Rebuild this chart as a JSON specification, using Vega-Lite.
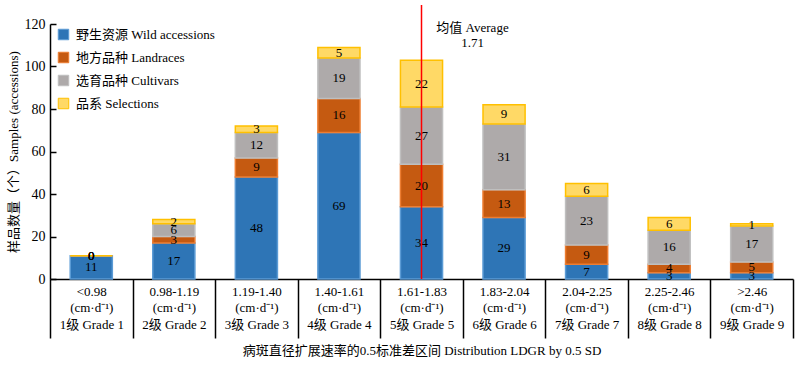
{
  "$schema": "https://vega.github.io/schema/vega-lite/v6.json",
  "width": 743,
  "height": 255,
  "autosize": {"type": "none"},
  "padding": {"left": 50, "top": 24, "right": 7, "bottom": 89},
  "config": {
    "font": "Liberation Serif, Noto Sans CJK SC",
    "view": {"stroke": null},
    "axis": {"labelFont": "Liberation Serif, Noto Sans CJK SC", "titleFont": "Liberation Serif, Noto Sans CJK SC", "labelColor": "#000", "titleColor": "#000", "domainColor": "#000", "tickColor": "#000", "grid": false, "titleFontWeight": "normal"},
    "legend": {"labelFont": "Liberation Serif, Noto Sans CJK SC"}
  },
  "datasets": {
    "counts": [
      {"grade": "<0.98\n(cm·d⁻¹)\n1级 Grade 1", "type": "野生资源 Wild accessions", "s": 0, "n": 11},
      {"grade": "<0.98\n(cm·d⁻¹)\n1级 Grade 1", "type": "地方品种 Landraces", "s": 1, "n": 0},
      {"grade": "<0.98\n(cm·d⁻¹)\n1级 Grade 1", "type": "选育品种 Cultivars", "s": 2, "n": 0},
      {"grade": "<0.98\n(cm·d⁻¹)\n1级 Grade 1", "type": "品系 Selections", "s": 3, "n": 0},
      {"grade": "0.98-1.19\n(cm·d⁻¹)\n2级 Grade 2", "type": "野生资源 Wild accessions", "s": 0, "n": 17},
      {"grade": "0.98-1.19\n(cm·d⁻¹)\n2级 Grade 2", "type": "地方品种 Landraces", "s": 1, "n": 3},
      {"grade": "0.98-1.19\n(cm·d⁻¹)\n2级 Grade 2", "type": "选育品种 Cultivars", "s": 2, "n": 6},
      {"grade": "0.98-1.19\n(cm·d⁻¹)\n2级 Grade 2", "type": "品系 Selections", "s": 3, "n": 2},
      {"grade": "1.19-1.40\n(cm·d⁻¹)\n3级 Grade 3", "type": "野生资源 Wild accessions", "s": 0, "n": 48},
      {"grade": "1.19-1.40\n(cm·d⁻¹)\n3级 Grade 3", "type": "地方品种 Landraces", "s": 1, "n": 9},
      {"grade": "1.19-1.40\n(cm·d⁻¹)\n3级 Grade 3", "type": "选育品种 Cultivars", "s": 2, "n": 12},
      {"grade": "1.19-1.40\n(cm·d⁻¹)\n3级 Grade 3", "type": "品系 Selections", "s": 3, "n": 3},
      {"grade": "1.40-1.61\n(cm·d⁻¹)\n4级 Grade 4", "type": "野生资源 Wild accessions", "s": 0, "n": 69},
      {"grade": "1.40-1.61\n(cm·d⁻¹)\n4级 Grade 4", "type": "地方品种 Landraces", "s": 1, "n": 16},
      {"grade": "1.40-1.61\n(cm·d⁻¹)\n4级 Grade 4", "type": "选育品种 Cultivars", "s": 2, "n": 19},
      {"grade": "1.40-1.61\n(cm·d⁻¹)\n4级 Grade 4", "type": "品系 Selections", "s": 3, "n": 5},
      {"grade": "1.61-1.83\n(cm·d⁻¹)\n5级 Grade 5", "type": "野生资源 Wild accessions", "s": 0, "n": 34},
      {"grade": "1.61-1.83\n(cm·d⁻¹)\n5级 Grade 5", "type": "地方品种 Landraces", "s": 1, "n": 20},
      {"grade": "1.61-1.83\n(cm·d⁻¹)\n5级 Grade 5", "type": "选育品种 Cultivars", "s": 2, "n": 27},
      {"grade": "1.61-1.83\n(cm·d⁻¹)\n5级 Grade 5", "type": "品系 Selections", "s": 3, "n": 22},
      {"grade": "1.83-2.04\n(cm·d⁻¹)\n6级 Grade 6", "type": "野生资源 Wild accessions", "s": 0, "n": 29},
      {"grade": "1.83-2.04\n(cm·d⁻¹)\n6级 Grade 6", "type": "地方品种 Landraces", "s": 1, "n": 13},
      {"grade": "1.83-2.04\n(cm·d⁻¹)\n6级 Grade 6", "type": "选育品种 Cultivars", "s": 2, "n": 31},
      {"grade": "1.83-2.04\n(cm·d⁻¹)\n6级 Grade 6", "type": "品系 Selections", "s": 3, "n": 9},
      {"grade": "2.04-2.25\n(cm·d⁻¹)\n7级 Grade 7", "type": "野生资源 Wild accessions", "s": 0, "n": 7},
      {"grade": "2.04-2.25\n(cm·d⁻¹)\n7级 Grade 7", "type": "地方品种 Landraces", "s": 1, "n": 9},
      {"grade": "2.04-2.25\n(cm·d⁻¹)\n7级 Grade 7", "type": "选育品种 Cultivars", "s": 2, "n": 23},
      {"grade": "2.04-2.25\n(cm·d⁻¹)\n7级 Grade 7", "type": "品系 Selections", "s": 3, "n": 6},
      {"grade": "2.25-2.46\n(cm·d⁻¹)\n8级 Grade 8", "type": "野生资源 Wild accessions", "s": 0, "n": 3},
      {"grade": "2.25-2.46\n(cm·d⁻¹)\n8级 Grade 8", "type": "地方品种 Landraces", "s": 1, "n": 4},
      {"grade": "2.25-2.46\n(cm·d⁻¹)\n8级 Grade 8", "type": "选育品种 Cultivars", "s": 2, "n": 16},
      {"grade": "2.25-2.46\n(cm·d⁻¹)\n8级 Grade 8", "type": "品系 Selections", "s": 3, "n": 6},
      {"grade": ">2.46\n(cm·d⁻¹)\n9级 Grade 9", "type": "野生资源 Wild accessions", "s": 0, "n": 3},
      {"grade": ">2.46\n(cm·d⁻¹)\n9级 Grade 9", "type": "地方品种 Landraces", "s": 1, "n": 5},
      {"grade": ">2.46\n(cm·d⁻¹)\n9级 Grade 9", "type": "选育品种 Cultivars", "s": 2, "n": 17},
      {"grade": ">2.46\n(cm·d⁻¹)\n9级 Grade 9", "type": "品系 Selections", "s": 3, "n": 1}
    ],
    "avg": [
      {"grade": "1.61-1.83\n(cm·d⁻¹)\n5级 Grade 5", "label": "均值 Average\n1.71"}
    ]
  },
  "encoding": {
    "x": {
      "field": "grade", "type": "nominal", "sort": null,
      "scale": {"paddingInner": 0, "paddingOuter": 0},
      "axis": {
        "title": "病斑直径扩展速率的0.5标准差区间 Distribution LDGR by 0.5 SD",
        "titleFontSize": 13, "titlePadding": 6,
        "labelAngle": 0, "labelFontSize": 13, "labelLineHeight": 16.5,
        "labelExpr": "split(datum.label, '\\n')",
        "labelBaseline": "top", "labelPadding": -53,
        "tickBand": "extent", "tickSize": 59, "tickWidth": 1.5, "domainWidth": 1.5
      }
    }
  },
  "layer": [
    {
      "data": {"name": "counts"},
      "mark": {"type": "bar", "width": {"band": 0.51}, "strokeWidth": 1.5},
      "encoding": {
        "y": {
          "field": "n", "type": "quantitative", "stack": "zero",
          "scale": {"domain": [0, 120], "nice": false},
          "axis": {
            "title": "样品数量（个）Samples (accessions)", "titleFontSize": 13, "titlePadding": 4,
            "values": [0, 20, 40, 60, 80, 100, 120], "labelFontSize": 14,
            "tickSize": -6, "labelPadding": 11, "tickWidth": 1.5, "domainWidth": 1.5
          }
        },
        "order": {"field": "s", "type": "quantitative", "sort": "ascending"},
        "color": {
          "field": "type", "type": "nominal",
          "scale": {
            "domain": ["野生资源 Wild accessions", "地方品种 Landraces", "选育品种 Cultivars", "品系 Selections"],
            "range": ["#2E75B6", "#C55A11", "#AEAAAA", "#FFD966"]
          },
          "legend": {
            "title": null, "orient": "none", "legendX": 7, "legendY": 4,
            "symbolType": "square", "symbolSize": 110, "symbolStrokeWidth": 1,
            "labelFontSize": 13, "rowPadding": 8, "labelOffset": 6
          }
        },
        "stroke": {
          "field": "type", "type": "nominal",
          "scale": {
            "domain": ["野生资源 Wild accessions", "地方品种 Landraces", "选育品种 Cultivars", "品系 Selections"],
            "range": ["#5B9BD5", "#ED7D31", "#BFBFBF", "#FFC000"]
          },
          "legend": null
        }
      }
    },
    {
      "data": {"name": "counts"},
      "transform": [
        {"stack": "n", "groupby": ["grade"], "sort": [{"field": "s", "order": "ascending"}], "as": ["y0", "y1"]},
        {"calculate": "(datum.y0 + datum.y1) / 2", "as": "mid"}
      ],
      "mark": {"type": "text", "fontSize": 13, "baseline": "middle", "color": "#000"},
      "encoding": {
        "y": {"field": "mid", "type": "quantitative"},
        "text": {"field": "n", "type": "quantitative"}
      }
    },
    {
      "data": {"name": "avg"},
      "mark": {"type": "rule", "color": "#FF0000", "strokeWidth": 1.5},
      "encoding": {
        "y": {"datum": 0},
        "y2": {"datum": 129}
      }
    },
    {
      "data": {"name": "avg"},
      "mark": {"type": "text", "fontSize": 13, "baseline": "middle", "align": "center", "dx": 51, "lineHeight": 15, "lineBreak": "\n", "color": "#000"},
      "encoding": {
        "y": {"datum": 118},
        "text": {"field": "label"}
      }
    }
  ]
}
